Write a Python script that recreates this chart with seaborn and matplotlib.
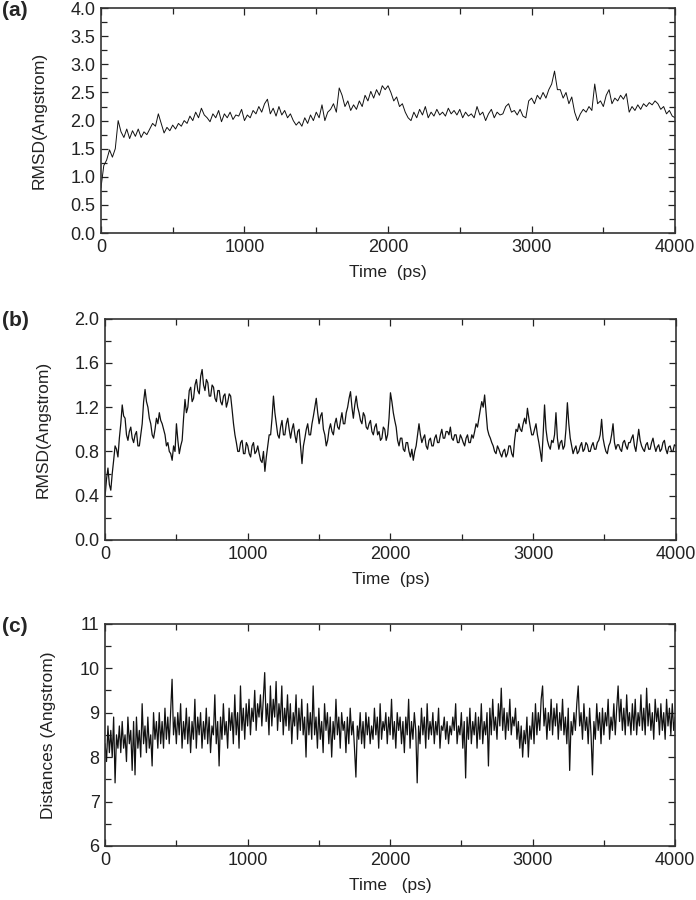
import numpy as np
import pandas as pd
import seaborn as sns
import matplotlib
matplotlib.use('Agg')
from matplotlib import pyplot as plt
from matplotlib.ticker import MultipleLocator, FormatStrFormatter

# (a) RMSD, one value every 20 ps
rmsd_a = [
    0.80, 1.20, 1.30, 1.48, 1.35, 1.50, 2.00, 1.80, 1.70, 1.85,
    1.68, 1.82, 1.72, 1.85, 1.70, 1.80, 1.75, 1.85, 1.95, 1.90,
    2.12, 1.95, 1.78, 1.88, 1.82, 1.92, 1.85, 1.95, 1.90, 2.00,
    1.95, 2.08, 2.00, 2.15, 2.05, 2.22, 2.10, 2.05, 1.98, 2.12,
    2.05, 2.18, 1.98, 2.12, 2.05, 2.15, 2.02, 2.10, 2.08, 2.20,
    2.00, 2.10, 2.05, 2.18, 2.12, 2.25, 2.15, 2.30, 2.38, 2.12,
    2.22, 2.08, 2.25, 2.10, 2.18, 2.05, 2.12, 2.00, 1.92, 1.98,
    1.90, 2.05, 1.95, 2.10, 2.00, 2.15, 2.05, 2.28, 2.00, 2.15,
    2.20, 2.30, 2.15, 2.58, 2.45, 2.25, 2.35, 2.18, 2.28, 2.20,
    2.35, 2.25, 2.45, 2.35, 2.52, 2.40, 2.55, 2.45, 2.62, 2.55,
    2.62, 2.50, 2.35, 2.42, 2.25, 2.30, 2.15, 2.05, 2.00, 2.15,
    2.05, 2.20, 2.10, 2.25, 2.05, 2.15, 2.08, 2.20, 2.10, 2.15,
    2.08, 2.22, 2.12, 2.18, 2.10, 2.20, 2.05, 2.15, 2.08, 2.12,
    2.05, 2.25, 2.10, 2.15, 2.00, 2.12, 2.20, 2.05, 2.15, 2.10,
    2.12, 2.25, 2.30, 2.15, 2.18, 2.10, 2.20, 2.08, 2.05, 2.35,
    2.40, 2.30, 2.45, 2.38, 2.50, 2.40, 2.55, 2.65, 2.88, 2.55,
    2.55, 2.40, 2.50, 2.30, 2.42, 2.15, 2.00, 2.12, 2.20, 2.15,
    2.25, 2.18, 2.65, 2.30, 2.35, 2.25, 2.45, 2.55, 2.30, 2.40,
    2.35, 2.45, 2.38, 2.48, 2.15, 2.25, 2.18, 2.28, 2.20, 2.30,
    2.25, 2.32, 2.28, 2.35, 2.30, 2.20, 2.25, 2.12, 2.18, 2.08,
    2.05,
]

# (b) RMSD, one value every 10 ps
rmsd_b = [
    0.40, 0.55, 0.65, 0.50, 0.45, 0.60, 0.72, 0.85, 0.82, 0.75,
    0.92, 1.05, 1.22, 1.12, 1.10, 0.95, 0.90, 0.98, 1.02, 0.92,
    0.88, 0.95, 0.98, 0.85, 0.85, 0.95, 1.05, 1.25, 1.36, 1.25,
    1.20, 1.10, 1.05, 0.95, 0.92, 1.00, 1.10, 1.05, 1.15, 1.08,
    1.05, 1.00, 0.95, 0.85, 0.88, 0.80, 0.78, 0.72, 0.85, 0.80,
    1.05, 0.90, 0.78, 0.85, 0.90, 1.10, 1.27, 1.15, 1.20, 1.35,
    1.38, 1.25, 1.28, 1.40, 1.45, 1.35, 1.32, 1.48, 1.54, 1.40,
    1.35, 1.45, 1.42, 1.30, 1.30, 1.40, 1.38, 1.28, 1.25, 1.35,
    1.35, 1.25, 1.22, 1.30, 1.32, 1.20, 1.25, 1.32, 1.30, 1.18,
    1.05, 0.95, 0.88, 0.80, 0.80, 0.88, 0.90, 0.78, 0.78, 0.88,
    0.85, 0.78, 0.75, 0.85, 0.88, 0.78, 0.80, 0.85, 0.78, 0.72,
    0.70, 0.80, 0.62, 0.75, 0.85, 0.95, 0.95, 1.10, 1.30, 1.15,
    1.05, 0.95, 0.92, 1.02, 1.08, 0.95, 0.95, 1.05, 1.10, 1.00,
    0.92, 1.00, 1.05, 0.95, 0.88, 0.98, 1.00, 0.85, 0.69, 0.85,
    0.92, 1.00, 1.05, 0.95, 0.95, 1.05, 1.12, 1.20, 1.28, 1.15,
    1.05, 1.12, 1.15, 1.00, 0.95, 0.85, 0.90, 1.00, 1.05, 0.98,
    0.95, 1.05, 1.10, 1.02, 1.00, 1.08, 1.15, 1.05, 1.05, 1.15,
    1.20, 1.28, 1.34, 1.20, 1.10, 1.22, 1.30, 1.20, 1.15, 1.08,
    1.05, 1.15, 1.12, 1.02, 1.00, 1.05, 1.08, 0.98, 0.95, 1.02,
    1.05, 0.95, 0.98, 0.90, 0.92, 1.02, 1.00, 0.90, 0.95, 1.10,
    1.33, 1.25, 1.15, 1.08, 1.02, 0.90, 0.85, 0.92, 0.92, 0.82,
    0.80, 0.88, 0.88, 0.80, 0.75, 0.82, 0.72, 0.80, 0.85, 0.95,
    1.05, 0.95, 0.88, 0.92, 0.95, 0.85, 0.82, 0.90, 0.92, 0.85,
    0.85, 0.92, 0.95, 0.88, 0.88, 0.95, 1.00, 0.92, 0.92, 0.98,
    0.98, 0.95, 1.02, 0.92, 0.90, 0.95, 0.95, 0.88, 0.88, 0.95,
    0.92, 0.88, 0.85, 0.92, 0.95, 0.88, 0.88, 0.95, 0.92, 0.98,
    1.05, 1.02, 1.10, 1.18, 1.25, 1.20, 1.31, 1.15, 1.00, 0.95,
    0.92, 0.88, 0.85, 0.80, 0.78, 0.85, 0.82, 0.78, 0.75, 0.80,
    0.82, 0.75, 0.78, 0.85, 0.85, 0.78, 0.75, 0.90, 1.00, 0.98,
    1.05, 1.00, 0.98, 1.05, 1.10, 1.05, 1.19, 1.10, 1.02, 0.95,
    0.95, 1.00, 1.05, 0.95, 0.88, 0.80, 0.71, 0.95, 1.22, 1.00,
    0.90, 0.85, 0.82, 0.90, 0.88, 0.95, 1.15, 0.92, 0.82, 0.88,
    0.90, 0.82, 0.85, 1.00, 1.24, 1.05, 0.92, 0.85, 0.78, 0.82,
    0.85, 0.78, 0.80, 0.85, 0.88, 0.80, 0.82, 0.88, 0.86, 0.80,
    0.80, 0.85, 0.88, 0.82, 0.82, 0.88, 0.90, 0.95, 1.09, 0.92,
    0.85, 0.80, 0.78, 0.85, 0.88, 0.95, 1.05, 0.88, 0.82, 0.86,
    0.86, 0.82, 0.80, 0.88, 0.90, 0.85, 0.82, 0.88, 0.88, 0.92,
    0.95, 0.85, 0.80, 0.90, 1.00, 0.90, 0.85, 0.82, 0.80, 0.86,
    0.88, 0.82, 0.82, 0.88, 0.92, 0.85, 0.80, 0.84, 0.86, 0.80,
    0.82, 0.88, 0.90, 0.82, 0.78, 0.84, 0.85, 0.80, 0.80, 0.86,
    0.85,
]

# (c) distances, one value every 10 ps
dist_c = [
    8.3, 7.9, 8.7, 8.1, 8.6, 8.0, 8.9, 7.42, 8.5, 8.2,
    8.7, 8.1, 8.8, 8.2, 8.5, 7.9, 8.9, 8.3, 8.6, 7.7,
    8.8, 7.6, 8.9, 8.2, 8.6, 8.0, 9.2, 8.3, 8.7, 8.1,
    8.9, 8.2, 8.5, 7.8, 9.0, 8.4, 8.8, 8.2, 9.0, 8.3,
    8.8, 8.2, 9.1, 8.4, 8.9, 8.3, 9.0, 9.75, 8.5, 8.9,
    8.3, 9.0, 8.5, 9.2, 8.2, 8.8, 8.4, 9.1, 8.3, 8.9,
    8.1, 8.8, 8.4, 9.3, 8.2, 8.9, 8.5, 9.0, 8.2, 8.8,
    8.4, 9.1, 8.3, 8.9, 8.1, 8.7, 8.5, 9.4, 8.3, 8.8,
    7.8, 8.9, 8.4, 9.2, 8.5, 8.8, 8.2, 9.1, 8.6, 9.0,
    8.3, 9.4, 8.5, 9.0, 8.2, 9.6, 8.6, 9.1, 8.4, 9.2,
    8.7, 9.3, 8.5, 9.1, 8.8, 9.5, 8.6, 9.2, 8.9, 9.4,
    8.7, 9.3, 9.9, 8.8, 9.2, 8.5, 9.6, 8.7, 9.3, 8.9,
    9.7, 8.6, 9.2, 8.8, 9.6, 8.5, 9.1, 8.7, 9.4, 8.6,
    9.2, 8.3, 9.0, 8.7, 9.4, 8.4, 9.1, 8.6, 9.3, 8.5,
    8.9, 8.0, 9.2, 8.5, 9.0, 8.4, 9.6, 8.5, 8.9, 8.2,
    9.1, 8.4, 8.8, 8.1, 9.2, 8.6, 9.0, 8.3, 8.9, 8.0,
    8.8, 8.4, 9.3, 8.5, 8.9, 8.2, 9.0, 8.6, 8.8, 8.1,
    8.9, 8.3, 9.1, 8.5, 8.8, 8.2, 7.55, 8.7, 8.4, 9.0,
    8.3, 8.8, 8.2, 9.0, 8.5, 8.9, 8.3, 8.7, 8.4, 9.1,
    8.5, 8.9, 8.2, 9.2, 8.4, 8.8, 8.6, 9.0, 8.3, 8.9,
    8.5, 9.3, 8.4, 8.8, 8.2, 9.0, 8.6, 8.9, 8.3, 8.8,
    8.1, 8.9, 8.5, 9.3, 8.2, 8.8, 8.4, 9.0, 8.6, 7.42,
    8.7, 8.3, 9.1, 8.5, 8.9, 8.2, 9.2, 8.4, 8.8, 8.5,
    9.0, 8.3, 8.8, 8.5, 9.1, 8.2, 8.7, 8.6, 8.9, 8.4,
    8.8, 8.3, 8.7, 8.5, 8.9, 8.6, 9.2, 8.3, 8.7, 8.5,
    9.0, 8.2, 8.8, 7.53, 8.9, 8.4, 9.1, 8.3, 8.8, 8.5,
    9.0, 8.2, 8.9, 8.4, 9.2, 8.3, 8.8, 8.5, 9.0, 7.8,
    9.1, 8.5, 9.3, 8.6, 8.9, 8.4, 9.2, 8.7, 9.55, 8.6,
    9.1, 8.4, 9.0, 8.6, 9.3, 8.5, 8.9, 8.7, 9.1, 8.4,
    8.8, 8.2, 8.7, 8.0, 8.6, 8.3, 8.9, 8.0, 8.7, 8.4,
    9.0, 8.3, 9.2, 8.5, 9.0, 8.6, 9.3, 9.6, 8.7, 9.1,
    8.4, 9.0, 8.6, 9.3, 8.5, 9.1, 8.7, 9.2, 8.4, 9.0,
    8.6, 9.3, 8.5, 8.9, 8.3, 9.1, 7.7, 8.8, 8.5, 9.0,
    8.6, 9.2, 9.6, 8.7, 9.0, 8.4, 9.2, 8.6, 8.9, 8.3,
    9.1, 8.5, 7.6, 8.8, 8.4, 9.2, 8.6, 9.0, 8.3, 9.1,
    8.5, 9.0, 8.7, 9.3, 8.4, 8.9, 8.6, 9.2, 8.5, 9.1,
    9.6, 8.8, 9.3, 8.6, 9.1, 8.5, 9.4, 8.7, 9.0, 8.5,
    9.2, 8.6, 9.3, 8.5, 9.0, 8.7, 9.4, 8.6, 9.1, 8.5,
    9.55, 8.7, 9.2, 8.6, 9.0, 8.4, 9.3, 8.8, 9.1, 8.5,
    9.2, 8.6, 9.0, 8.4, 9.3, 8.7, 9.1, 8.5, 9.2, 8.6,
    8.9,
]

time_a = np.arange(len(rmsd_a)) * 20
time_b = np.arange(len(rmsd_b)) * 10
time_c = np.arange(len(dist_c)) * 10

sns.set_theme(style='ticks')
plt.rcParams['font.family'] = ['Liberation Sans', 'DejaVu Sans']

fig = plt.figure(figsize=(6.96, 9), dpi=100)

paineis = [
    # dados, tempos, rotulo y, ylim, passo maior, passo menor, posicao, letra, xlabel, formato, espessura
    (rmsd_a, time_a, 'RMSD(Angstrom)', (0, 4.0), 0.5, 0.25,
     [0.145, 0.741, 0.825, 0.250], '(a)', 'Time  (ps)', '%.1f', 0.7),
    (rmsd_b, time_b, 'RMSD(Angstrom)', (0, 2.0), 0.4, 0.2,
     [0.151, 0.400, 0.820, 0.246], '(b)', 'Time  (ps)', '%.1f', 0.9),
    (dist_c, time_c, 'Distances (Angstrom)', (6, 11), 1, 0.5,
     [0.151, 0.060, 0.819, 0.247], '(c)', 'Time   (ps)', '%d', 0.9),
]

for valores, tempos, ylab, ylim, maior, menor, pos, letra, xlab, fmt, lw in paineis:
    ax = fig.add_axes(pos)
    df = pd.DataFrame({'t': tempos, 'v': valores})
    sns.lineplot(data=df, x='t', y='v', ax=ax, color='#111111',
                 linewidth=lw, estimator=None, sort=False)
    ax.set_xlim(0, 4000)
    ax.set_ylim(*ylim)
    ax.xaxis.set_major_locator(MultipleLocator(1000))
    ax.xaxis.set_minor_locator(MultipleLocator(500))
    ax.yaxis.set_major_locator(MultipleLocator(maior))
    ax.yaxis.set_minor_locator(MultipleLocator(menor))
    ax.yaxis.set_major_formatter(FormatStrFormatter(fmt))
    ax.tick_params(which='both', direction='in', top=True, right=True,
                   labelsize=13, colors='#222222', width=0.9)
    ax.tick_params(which='major', length=5, pad=4)
    ax.tick_params(which='minor', length=4)
    for s in ax.spines.values():
        s.set_linewidth(1.2)
        s.set_color('#333333')
    ax.set_xlabel(xlab, fontsize=12.5, labelpad=7, color='#222222')
    ax.set_ylabel(ylab, fontsize=12.5, labelpad=17, color='#222222')
    fig.text(0.003, pos[1] + pos[3] + 0.008, letra, fontsize=15,
             fontweight='bold', va='top', ha='left')

fig.savefig('out.png', dpi=100, facecolor='white')
